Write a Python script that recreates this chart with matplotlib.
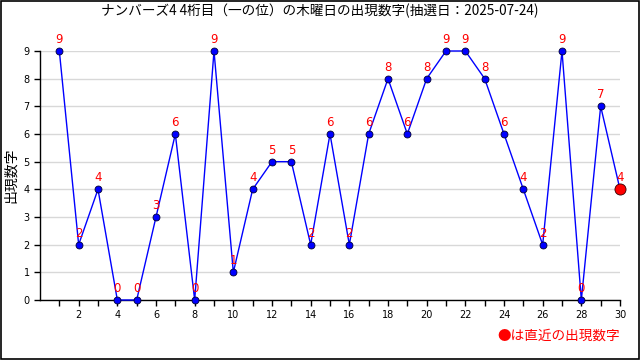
import matplotlib
matplotlib.use("Agg")
import matplotlib.pyplot as plt
from matplotlib.patches import Rectangle

plt.rcParams['font.family'] = ['Noto Sans CJK JP', 'DejaVu Sans']

x = list(range(1, 31))
values = [9, 2, 4, 0, 0, 3, 6, 0, 9, 1, 4, 5, 5, 2, 6, 2, 6, 8, 6, 8, 9, 9, 8, 6, 4, 2, 9, 0, 7, 4]
xticks = list(range(1, 31))
xticklabels = [str(i) if i % 2 == 0 else '' for i in xticks]
yticks = list(range(0, 10))
title = 'ナンバーズ4 4桁目（一の位）の木曜日の出現数字(抽選日：2025-07-24)'
ylabel = '出現数字'
note = '●は直近の出現数字'

fig = plt.figure(figsize=(6.4, 3.6), dpi=100)
ax = fig.add_axes([40/640, 1-300/360, 580/640, 249/360])

ax.set_xlim(0, 30)
ax.set_ylim(0, 9)
ax.grid(axis='y', color='#d8d8d8', linewidth=1)
ax.set_axisbelow(True)

ax.plot(x, values, color='#0000ff', linewidth=1, zorder=3, clip_on=False)
ax.plot(x[:-1], values[:-1], 'o', color='#0000ff', markeredgecolor='#000033',
        markersize=5, markeredgewidth=0.6, zorder=4, clip_on=False)
ax.plot(x[-1:], values[-1:], 'o', color='#ff0000', markeredgecolor='#330000',
        markersize=8, markeredgewidth=0.6, zorder=5, clip_on=False)

for xi, v in zip(x, values):
    ax.annotate(str(v), (xi, v), xytext=(0, 3.5), textcoords='offset points',
                ha='center', va='bottom', color='#ff0000', fontsize=8.5,
                family='DejaVu Sans', zorder=6, annotation_clip=False)

ax.set_xticks(xticks)
ax.set_xticklabels(xticklabels, fontsize=7, family='DejaVu Sans')
ax.set_yticks(yticks)
ax.set_yticklabels([str(t) for t in yticks], fontsize=7, family='DejaVu Sans')
ax.tick_params(axis='both', length=4, width=1, color='black', direction='out')

ax.spines['top'].set_visible(False)
ax.spines['right'].set_visible(False)
ax.spines['left'].set_linewidth(1)
ax.spines['bottom'].set_linewidth(1)

ax.set_ylabel(ylabel, fontsize=10, labelpad=4)
fig.text(0.5, 1-11/360, title, ha='center', va='center', fontsize=9.8)
fig.text(620/640, 1-336/360, note, ha='right', va='center', fontsize=9.8, color='#ff0000')

fig.patches.append(Rectangle((0.001, 0.002), 0.997, 0.995, transform=fig.transFigure,
                             fill=False, edgecolor='black', linewidth=1.2))

fig.savefig('out.png', dpi=100)
